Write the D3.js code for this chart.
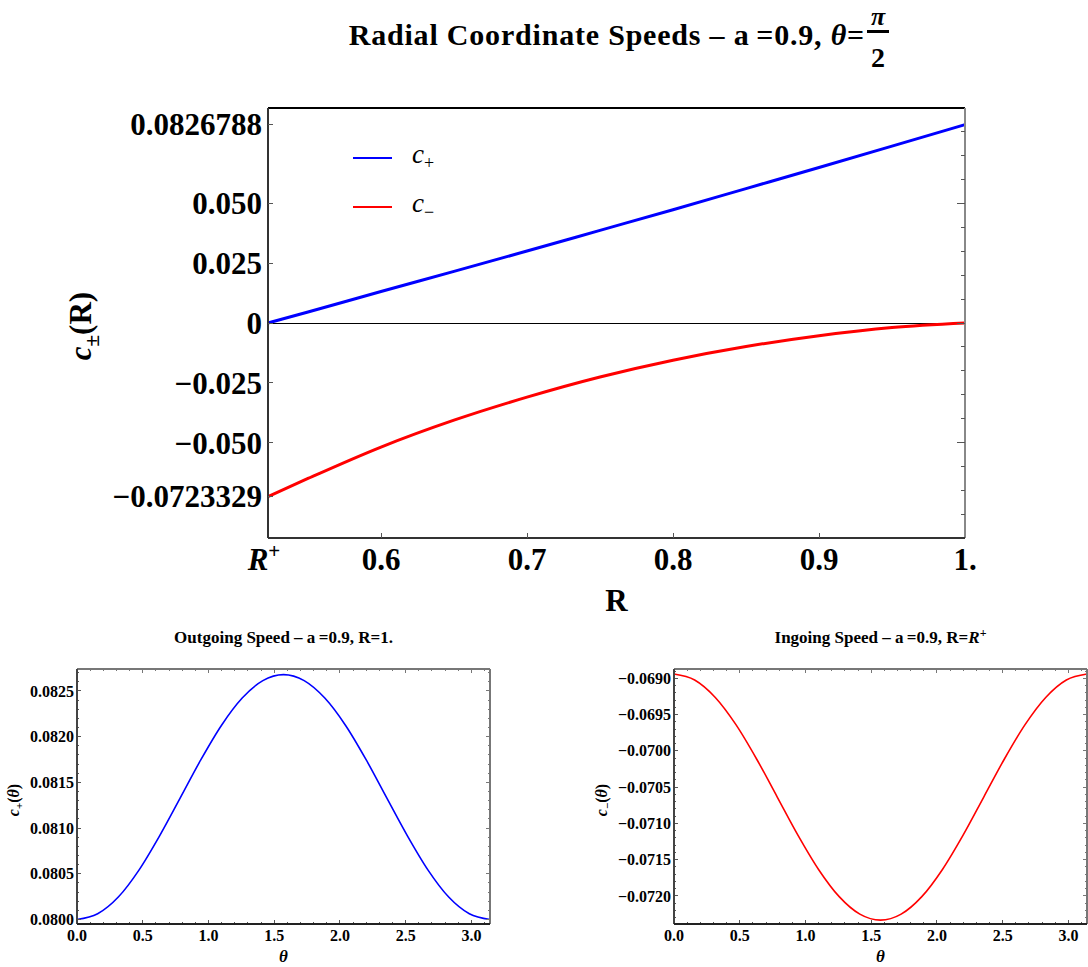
<!DOCTYPE html>
<html>
<head>
<meta charset="utf-8">
<script src="https://cdn.jsdelivr.net/npm/d3@7"></script>
<style>
  body { margin: 0; background: #fff; }
  text { font-family: "Liberation Serif", "Times New Roman", serif; }
  line { shape-rendering: crispEdges; }
</style>
</head>
<body>
<svg id="chart" width="1088" height="967"></svg>
<script>
// ---- data ----
const R_PLUS = 0.5226;
const rValues  = [R_PLUS, 0.55, 0.60, 0.65, 0.70, 0.75, 0.80, 0.85, 0.90, 0.95, 1.00];
const cPlusR   = [0, 0.0046, 0.0131, 0.0215, 0.0300, 0.0386, 0.0472, 0.0560, 0.0648, 0.0737, 0.0826788];
const cMinusR  = [-0.0723329, -0.0648, -0.0517, -0.0405, -0.0309, -0.0225, -0.0155, -0.0098, -0.0053, -0.0019, 0];

const topYTicks  = [0.0826788, 0.050, 0.025, 0, -0.025, -0.050, -0.0723329];
const topYLabels = ["0.0826788", "0.050", "0.025", "0", "\u22120.025", "\u22120.050", "\u22120.0723329"];
const topRightTicks = [-0.08, -0.07, -0.06, -0.05, -0.04, -0.03, -0.02, -0.01, 0, 0.01, 0.02, 0.03, 0.04, 0.05, 0.06, 0.07, 0.08];
const topXTicks  = [0.6, 0.7, 0.8, 0.9];

const thetaValues = [0, 0.1571, 0.3142, 0.4712, 0.6283, 0.7854, 0.9425, 1.0996, 1.2566, 1.4137, 1.5708,
                     1.7279, 1.8850, 2.0420, 2.1991, 2.3562, 2.5133, 2.6704, 2.8274, 2.9845, 3.1416];
const cPlusTheta  = [0.080000, 0.080062, 0.080245, 0.080540, 0.080915, 0.081330, 0.081748, 0.082125, 0.082422, 0.082613, 0.0826788,
                     0.082613, 0.082422, 0.082125, 0.081748, 0.081330, 0.080915, 0.080540, 0.080245, 0.080062, 0.080000];
const cMinusTheta = [-0.068940, -0.069023, -0.069264, -0.069639, -0.070112, -0.070636, -0.071161, -0.071634, -0.072009, -0.072250, -0.0723329,
                     -0.072250, -0.072009, -0.071634, -0.071161, -0.070636, -0.070112, -0.069639, -0.069264, -0.069023, -0.068940];

const thetaMajor = [0, 0.5, 1.0, 1.5, 2.0, 2.5, 3.0];
const thetaMajorLabels = ["0.0", "0.5", "1.0", "1.5", "2.0", "2.5", "3.0"];
const plusMajor  = [0.0800, 0.0805, 0.0810, 0.0815, 0.0820, 0.0825];
const plusLabels = ["0.0800", "0.0805", "0.0810", "0.0815", "0.0820", "0.0825"];
const minusMajor  = [-0.0720, -0.0715, -0.0710, -0.0705, -0.0700, -0.0695, -0.0690];
const minusLabels = ["\u22120.0720", "\u22120.0715", "\u22120.0710", "\u22120.0705", "\u22120.0700", "\u22120.0695", "\u22120.0690"];

const svg = d3.select("#chart");
svg.append("rect").attr("width", 1088).attr("height", 967).attr("fill", "#fff");

// ---- title ----
const title = svg.append("text")
    .attr("x", 865).attr("y", 45)
    .attr("text-anchor", "end")
    .style("font-size", "30px").style("font-weight", "bold").style("letter-spacing", "0.8px");
title.append("tspan").text("Radial Coordinate Speeds \u2013 a\u2009=0.9, ");
title.append("tspan").style("font-style", "italic").text("\u03b8");
title.append("tspan").text("=");
svg.append("text").attr("x", 878).attr("y", 25).attr("text-anchor", "middle")
    .style("font-size", "26px").style("font-weight", "bold").style("font-style", "italic").text("\u03c0");
svg.append("line").attr("x1", 867).attr("x2", 889).attr("y1", 31).attr("y2", 31)
    .attr("stroke", "#000").attr("stroke-width", 3);
svg.append("text").attr("x", 878).attr("y", 67).attr("text-anchor", "middle")
    .style("font-size", "28px").style("font-weight", "bold").text("2");

// ---- top chart ----
const T = { left: 268, right: 965, top: 108, bottom: 538 };
const xTop = d3.scaleLinear().domain([R_PLUS, 1]).range([T.left, T.right]);
const yTop = d3.scaleLinear().domain([-0.0896, 0.0896]).range([T.bottom, T.top]);

const gTop = svg.append("g");
// zero axis line
gTop.append("line").attr("x1", T.left).attr("x2", T.right)
    .attr("y1", yTop(0)).attr("y2", yTop(0)).attr("stroke", "#000").attr("stroke-width", 1);

const topPts = rValues.map((r, i) => ({ r, p: cPlusR[i], m: cMinusR[i] }));
const lineP = d3.line().x(d => xTop(d.r)).y(d => yTop(d.p)).curve(d3.curveMonotoneX);
const lineM = d3.line().x(d => xTop(d.r)).y(d => yTop(d.m)).curve(d3.curveMonotoneX);
gTop.append("path").attr("d", lineM(topPts)).attr("fill", "none").attr("stroke", "#ff0000").attr("stroke-width", 3);
gTop.append("path").attr("d", lineP(topPts)).attr("fill", "none").attr("stroke", "#0000ff").attr("stroke-width", 3);

// frame
gTop.append("line").attr("x1", T.left).attr("x2", T.right).attr("y1", T.top).attr("y2", T.top).attr("stroke", "#000").attr("stroke-width", 1.2);
gTop.append("line").attr("x1", T.right).attr("x2", T.right).attr("y1", T.top).attr("y2", T.bottom).attr("stroke", "#888").attr("stroke-width", 1.5);
gTop.append("line").attr("x1", T.left).attr("x2", T.left).attr("y1", T.top).attr("y2", T.bottom).attr("stroke", "#333").attr("stroke-width", 1.3);
gTop.append("line").attr("x1", T.left).attr("x2", T.right).attr("y1", T.bottom).attr("y2", T.bottom).attr("stroke", "#333").attr("stroke-width", 1.3);

// left ticks + labels
gTop.selectAll(".lt").data(topYTicks).enter().append("line")
    .attr("x1", T.left).attr("x2", T.left + 5)
    .attr("y1", d => yTop(d)).attr("y2", d => yTop(d)).attr("stroke", "#555");
gTop.selectAll(".ll").data(topYTicks).enter().append("text")
    .attr("x", T.left - 6).attr("y", d => yTop(d)).attr("dy", "0.35em")
    .attr("text-anchor", "end")
    .style("font-size", "31px").style("font-weight", "bold")
    .text((d, i) => topYLabels[i]);

// right ticks
gTop.selectAll(".rt").data(topRightTicks).enter().append("line")
    .attr("x1", T.right).attr("x2", d => T.right - (Math.abs(Math.round(d * 100)) % 5 === 0 ? 8 : 4))
    .attr("y1", d => yTop(d)).attr("y2", d => yTop(d)).attr("stroke", "#555");

// bottom ticks + labels
gTop.selectAll(".bt").data(topXTicks).enter().append("line")
    .attr("x1", d => xTop(d)).attr("x2", d => xTop(d))
    .attr("y1", T.bottom).attr("y2", T.bottom - 5).attr("stroke", "#555");
gTop.selectAll(".bl").data(topXTicks.concat([1])).enter().append("text")
    .attr("x", d => xTop(d)).attr("y", 570).attr("text-anchor", "middle")
    .style("font-size", "31px").style("font-weight", "bold")
    .text(d => d === 1 ? "1." : d3.format(".1f")(d));
const rpLabel = gTop.append("text").attr("x", xTop(R_PLUS) - 4).attr("y", 570).attr("text-anchor", "middle")
    .style("font-size", "31px").style("font-weight", "bold").style("font-style", "italic");
rpLabel.append("tspan").text("R");
rpLabel.append("tspan").attr("dy", -12).style("font-size", "21px").style("font-style", "normal").text("+");

// axis titles
gTop.append("text").attr("x", (T.left + T.right) / 2).attr("y", 611).attr("text-anchor", "middle")
    .style("font-size", "31px").style("font-weight", "bold").text("R");
const yl = gTop.append("text").attr("transform", "translate(91,326) rotate(-90)")
    .attr("text-anchor", "middle").style("font-size", "31px").style("font-weight", "bold");
yl.append("tspan").style("font-style", "italic").text("c");
yl.append("tspan").attr("dy", 8).style("font-size", "21px").text("\u00b1");
yl.append("tspan").attr("dy", -8).text("(R)");

// legend
const legendItems = [{ name: "+", color: "#0000ff", y: 158 }, { name: "\u2212", color: "#ff0000", y: 207 }];
legendItems.forEach(item => {
    gTop.append("line").attr("x1", 353).attr("x2", 392).attr("y1", item.y).attr("y2", item.y)
        .attr("stroke", item.color).attr("stroke-width", 2);
    const t = gTop.append("text").attr("x", 412).attr("y", item.y + 5).style("font-size", "27px");
    t.append("tspan").style("font-style", "italic").text("c");
    t.append("tspan").attr("dy", 6).style("font-size", "18px").text(item.name);
});

// ---- bottom panels ----
function drawPanel(opt) {
    const g = svg.append("g");
    const x = d3.scaleLinear().domain([0, Math.PI]).range([opt.left, opt.right]);
    const y = d3.scaleLinear().domain(opt.yDomain).range([opt.bottom, opt.top]);

    const line = d3.line().x((d, i) => x(thetaValues[i])).y(d => y(d)).curve(d3.curveMonotoneX);
    g.append("path").attr("d", line(opt.values)).attr("fill", "none")
        .attr("stroke", opt.color).attr("stroke-width", 1.6);

    // minor ticks
    const yMinor = d3.range(Math.ceil(opt.yDomain[0] / 0.0001), Math.floor(opt.yDomain[1] / 0.0001) + 1).map(k => k * 0.0001);
    const xMinor = d3.range(0, 32).map(k => k * 0.1);
    const isMajorY = v => Math.abs(Math.round(v * 10000)) % 5 === 0;
    const isMajorX = v => Math.round(v * 10) % 5 === 0;

    yMinor.forEach(v => {
        const len = isMajorY(v) ? 4 : 2;
        g.append("line").attr("x1", opt.left).attr("x2", opt.left + len).attr("y1", y(v)).attr("y2", y(v)).attr("stroke", "#555");
        g.append("line").attr("x1", opt.right).attr("x2", opt.right - len).attr("y1", y(v)).attr("y2", y(v)).attr("stroke", "#777");
    });
    xMinor.forEach(v => {
        const len = isMajorX(v) ? 4 : 2;
        g.append("line").attr("x1", x(v)).attr("x2", x(v)).attr("y1", opt.bottom).attr("y2", opt.bottom - len).attr("stroke", "#555");
        g.append("line").attr("x1", x(v)).attr("x2", x(v)).attr("y1", opt.top).attr("y2", opt.top + len).attr("stroke", "#777");
    });

    // frame
    g.append("line").attr("x1", opt.left).attr("x2", opt.right).attr("y1", opt.top).attr("y2", opt.top).attr("stroke", "#777").attr("stroke-width", 1.3);
    g.append("line").attr("x1", opt.right).attr("x2", opt.right).attr("y1", opt.top).attr("y2", opt.bottom).attr("stroke", "#777").attr("stroke-width", 1.3);
    g.append("line").attr("x1", opt.left).attr("x2", opt.left).attr("y1", opt.top).attr("y2", opt.bottom).attr("stroke", "#444").attr("stroke-width", 1.5);
    g.append("line").attr("x1", opt.left).attr("x2", opt.right).attr("y1", opt.bottom).attr("y2", opt.bottom).attr("stroke", "#222").attr("stroke-width", 1.5);

    // labels
    g.selectAll(".yl").data(opt.yMajor).enter().append("text")
        .attr("x", opt.left - 3).attr("y", d => y(d)).attr("dy", "0.35em").attr("text-anchor", "end")
        .style("font-size", "16px").style("font-weight", "bold")
        .text((d, i) => opt.yLabels[i]);
    g.selectAll(".xl").data(thetaMajor).enter().append("text")
        .attr("x", d => x(d)).attr("y", 941).attr("text-anchor", "middle")
        .style("font-size", "16px").style("font-weight", "bold")
        .text((d, i) => thetaMajorLabels[i]);

    g.append("text").attr("x", (opt.left + opt.right) / 2).attr("y", 962).attr("text-anchor", "middle")
        .style("font-size", "17px").style("font-weight", "bold").style("font-style", "italic").text("\u03b8");

    const yt = g.append("text").attr("transform", `translate(${opt.yLabelX},800) rotate(-90)`)
        .attr("text-anchor", "middle").style("font-size", "16px").style("font-weight", "bold");
    yt.append("tspan").style("font-style", "italic").text("c");
    yt.append("tspan").attr("dy", 4).style("font-size", "11px").text(opt.sub);
    yt.append("tspan").attr("dy", -4).text("(");
    yt.append("tspan").style("font-style", "italic").text("\u03b8");
    yt.append("tspan").text(")");

    const tt = g.append("text").attr("x", (opt.left + opt.right) / 2).attr("y", 643).attr("text-anchor", "middle")
        .style("font-size", "17px").style("font-weight", "bold");
    opt.title(tt);
}

drawPanel({
    left: 77, right: 490, top: 669, bottom: 924,
    yDomain: [0.07995, 0.08274], yMajor: plusMajor, yLabels: plusLabels,
    values: cPlusTheta, color: "#0000ff", sub: "+", yLabelX: 19,
    title: t => t.append("tspan").text("Outgoing Speed \u2013 a\u2009=0.9, R=1.")
});
drawPanel({
    left: 674, right: 1087, top: 669, bottom: 924,
    yDomain: [-0.072386, -0.068872], yMajor: minusMajor, yLabels: minusLabels,
    values: cMinusTheta, color: "#ff0000", sub: "\u2212", yLabelX: 607,
    title: t => {
        t.append("tspan").text("Ingoing Speed \u2013 a\u2009=0.9, R=");
        t.append("tspan").style("font-style", "italic").text("R");
        t.append("tspan").attr("dy", -6).style("font-size", "12px").text("+");
    }
});
</script>
</body>
</html>
